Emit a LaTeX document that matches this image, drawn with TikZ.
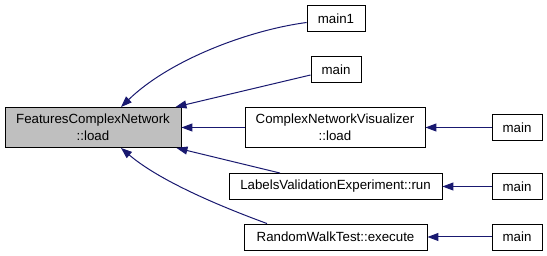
\documentclass[tikz,border=0pt]{standalone}
\usepackage{fontspec}
\setmainfont{Liberation Sans}
\usetikzlibrary{arrows.meta,positioning}
\definecolor{callblue}{HTML}{191970}
\definecolor{focusgrey}{HTML}{BFBFBF}

\begin{document}
\begin{tikzpicture}[->,>={Triangle[length=11pt,width=8pt]},x=1pt,y=1pt]
	\tikzstyle{fn}=[draw=black,fill=white,line width=0.9pt,minimum height=26pt,inner sep=2pt,align=center,font=\fontsize{13.3}{16.5}\selectfont]
	\tikzstyle{every edge}=[draw=callblue,line width=1pt]
	\tikzstyle{call}=[draw=callblue,line width=1pt]
	\useasboundingbox (0,0) rectangle (547,256);
	\node[fn,fill=focusgrey,minimum width=176pt,minimum height=40pt] (load) at (93,128.5) {FeaturesComplexNetwork\\::load};
	\node[fn,minimum width=58pt]    (main1) at (336,237.5)   {main1};
	\node[fn,minimum width=50pt]    (mainT) at (336,186.5)   {main};
	\node[fn,minimum width=180pt,minimum height=40pt] (cnv) at (335,128.5) {ComplexNetworkVisualizer\\::load};
	\node[fn,minimum width=213pt]   (lve) at (335.5,69.5)    {LabelsValidationExperiment::run};
	\node[fn,minimum width=183pt]   (rwt) at (335.5,19)      {RandomWalkTest::execute};
	\node[fn,minimum width=50pt]    (mainC)[right of=cnv,node distance=182pt]   {main};
	\node[fn,minimum width=50pt]    (mainL)[right of=lve,node distance=181.5pt] {main};
	\node[fn,minimum width=50pt]    (mainR)[right of=rwt,node distance=181.5pt] {main};
	% callers of the load function
	\draw[call] ([yshift=-4pt]main1.west) .. controls +(-57,-7.5) and +(49,47.5) .. ([xshift=28pt]load.north);
	\draw[call] ([xshift=-68.5pt]rwt.north) .. controls +(-27,10) and +(44,-37.5) .. ([xshift=28pt]load.south);
	\path
	([yshift=-5.5pt]mainT.west) edge ([xshift=-6pt]load.north east)
	(cnv) edge (load)
	([xshift=-55.5pt]lve.north) edge ([xshift=-5pt]load.south east)
	(mainC) edge (cnv)
	(mainL) edge (lve)
	(mainR) edge (rwt);
\end{tikzpicture}
\end{document}
